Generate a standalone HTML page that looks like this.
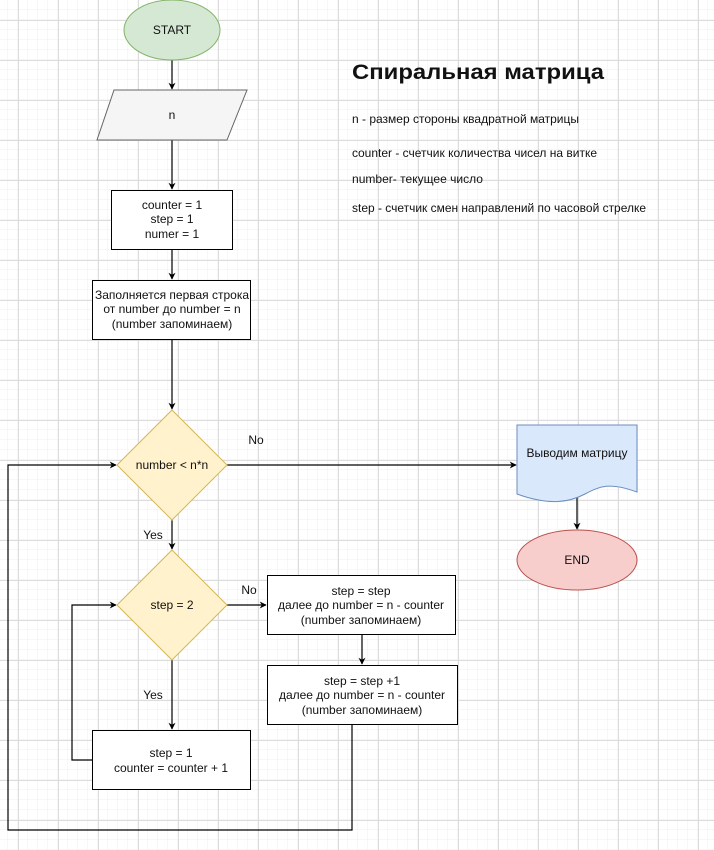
<!DOCTYPE html>
<html><head><meta charset="utf-8"><style>
html,body{margin:0;padding:0;background:#fff;}
svg{display:block;}
text{font-family:"Liberation Sans","DejaVu Sans",sans-serif;font-size:12px;fill:#111;}
</style></head><body>
<svg width="714" height="850" viewBox="0 0 714 850" xmlns="http://www.w3.org/2000/svg">
<defs>
<pattern id="minor" x="8" y="0" width="10" height="10" patternUnits="userSpaceOnUse">
<path d="M10 0V10M0 10H10" fill="none" stroke="#efefef" stroke-width="1"/>
</pattern>
<pattern id="major" x="18" y="20" width="40" height="40" patternUnits="userSpaceOnUse">
<path d="M0.5 0V40M0 0.5H40" fill="none" stroke="#dcdcdc" stroke-width="1"/>
</pattern>
<marker id="ar" viewBox="0 0 10 10" refX="9" refY="5" markerWidth="7" markerHeight="7" orient="auto" markerUnits="userSpaceOnUse">
<path d="M0 0L10 5L0 10L3 5Z" fill="#000"/>
</marker>
</defs>
<rect width="714" height="850" fill="url(#minor)"/>
<rect width="714" height="850" fill="url(#major)"/>

<g stroke="#000" stroke-width="1.2" fill="none">
<path d="M172 60V89" marker-end="url(#ar)"/>
<path d="M172 140V189" marker-end="url(#ar)"/>
<path d="M172 250V279" marker-end="url(#ar)"/>
<path d="M172 340V409" marker-end="url(#ar)"/>
<path d="M227 465H516" marker-end="url(#ar)"/>
<path d="M577 497V529" marker-end="url(#ar)"/>
<path d="M172 520V549" marker-end="url(#ar)"/>
<path d="M227 605H266" marker-end="url(#ar)"/>
<path d="M362 635V664" marker-end="url(#ar)"/>
<path d="M172 660V729" marker-end="url(#ar)"/>
<path d="M92 760H72V605H116" marker-end="url(#ar)"/>
<path d="M352 725V830H8V465H116" marker-end="url(#ar)"/>
</g>

<ellipse cx="172" cy="30" rx="48" ry="30" fill="#d5e8d4" stroke="#82b366"/>
<text x="172" y="34" text-anchor="middle">START</text>

<path d="M114 90H247L227 140H97Z" fill="#f5f5f5" stroke="#666"/>
<text x="172" y="119" text-anchor="middle">n</text>

<rect x="111.5" y="190.5" width="121" height="59" fill="#fff" stroke="#000"/>
<text x="172" y="209" text-anchor="middle">counter = 1</text>
<text x="172" y="223" text-anchor="middle">step = 1</text>
<text x="172" y="238" text-anchor="middle">numer = 1</text>

<rect x="92.5" y="280.5" width="158" height="59" fill="#fff" stroke="#000"/>
<text x="172" y="299" text-anchor="middle">Заполняется первая строка</text>
<text x="172" y="313" text-anchor="middle">от number до number = n</text>
<text x="172" y="328" text-anchor="middle">(number запоминаем)</text>

<path d="M172 410L227 465L172 520L117 465Z" fill="#fff2cc" stroke="#d6b656"/>
<text x="172" y="469" text-anchor="middle">number &lt; n*n</text>
<text x="256" y="444" text-anchor="middle">No</text>

<path d="M517 425H637V492C610 482 600 486 585 494C570 502 550 506 517 494Z" fill="#dae8fc" stroke="#6c8ebf"/>
<text x="577" y="457" text-anchor="middle">Выводим матрицу</text>

<ellipse cx="577" cy="560" rx="60" ry="30" fill="#f8cecc" stroke="#b85450"/>
<text x="577" y="564" text-anchor="middle">END</text>

<text x="153" y="539" text-anchor="middle">Yes</text>
<path d="M172 550L227 605L172 660L117 605Z" fill="#fff2cc" stroke="#d6b656"/>
<text x="172" y="609" text-anchor="middle">step = 2</text>
<text x="249" y="594" text-anchor="middle">No</text>

<rect x="267.5" y="575.5" width="188" height="59" fill="#fff" stroke="#000"/>
<text x="361" y="595" text-anchor="middle">step = step</text>
<text x="361" y="609" text-anchor="middle">далее до number = n - counter</text>
<text x="361" y="624" text-anchor="middle">(number запоминаем)</text>

<rect x="267.5" y="665.5" width="190" height="59" fill="#fff" stroke="#000"/>
<text x="362" y="685" text-anchor="middle">step = step +1</text>
<text x="362" y="699" text-anchor="middle">далее до number = n - counter</text>
<text x="362" y="714" text-anchor="middle">(number запоминаем)</text>

<text x="153" y="699" text-anchor="middle">Yes</text>
<rect x="92.5" y="730.5" width="158" height="59" fill="#fff" stroke="#000"/>
<text x="171" y="757" text-anchor="middle">step = 1</text>
<text x="171" y="772" text-anchor="middle">counter = counter + 1</text>

<text x="352" y="79" style="font-size:21px;font-weight:bold" textLength="252" lengthAdjust="spacingAndGlyphs">Спиральная матрица</text>
<text x="352" y="123" textLength="227" lengthAdjust="spacingAndGlyphs">n - размер стороны квадратной матрицы</text>
<text x="352" y="157" textLength="245" lengthAdjust="spacingAndGlyphs">counter - счетчик количества чисел на витке</text>
<text x="352" y="183" textLength="131" lengthAdjust="spacingAndGlyphs">number- текущее число</text>
<text x="352" y="212" textLength="294" lengthAdjust="spacingAndGlyphs">step - счетчик смен направлений по часовой стрелке</text>
</svg>
</body></html>
